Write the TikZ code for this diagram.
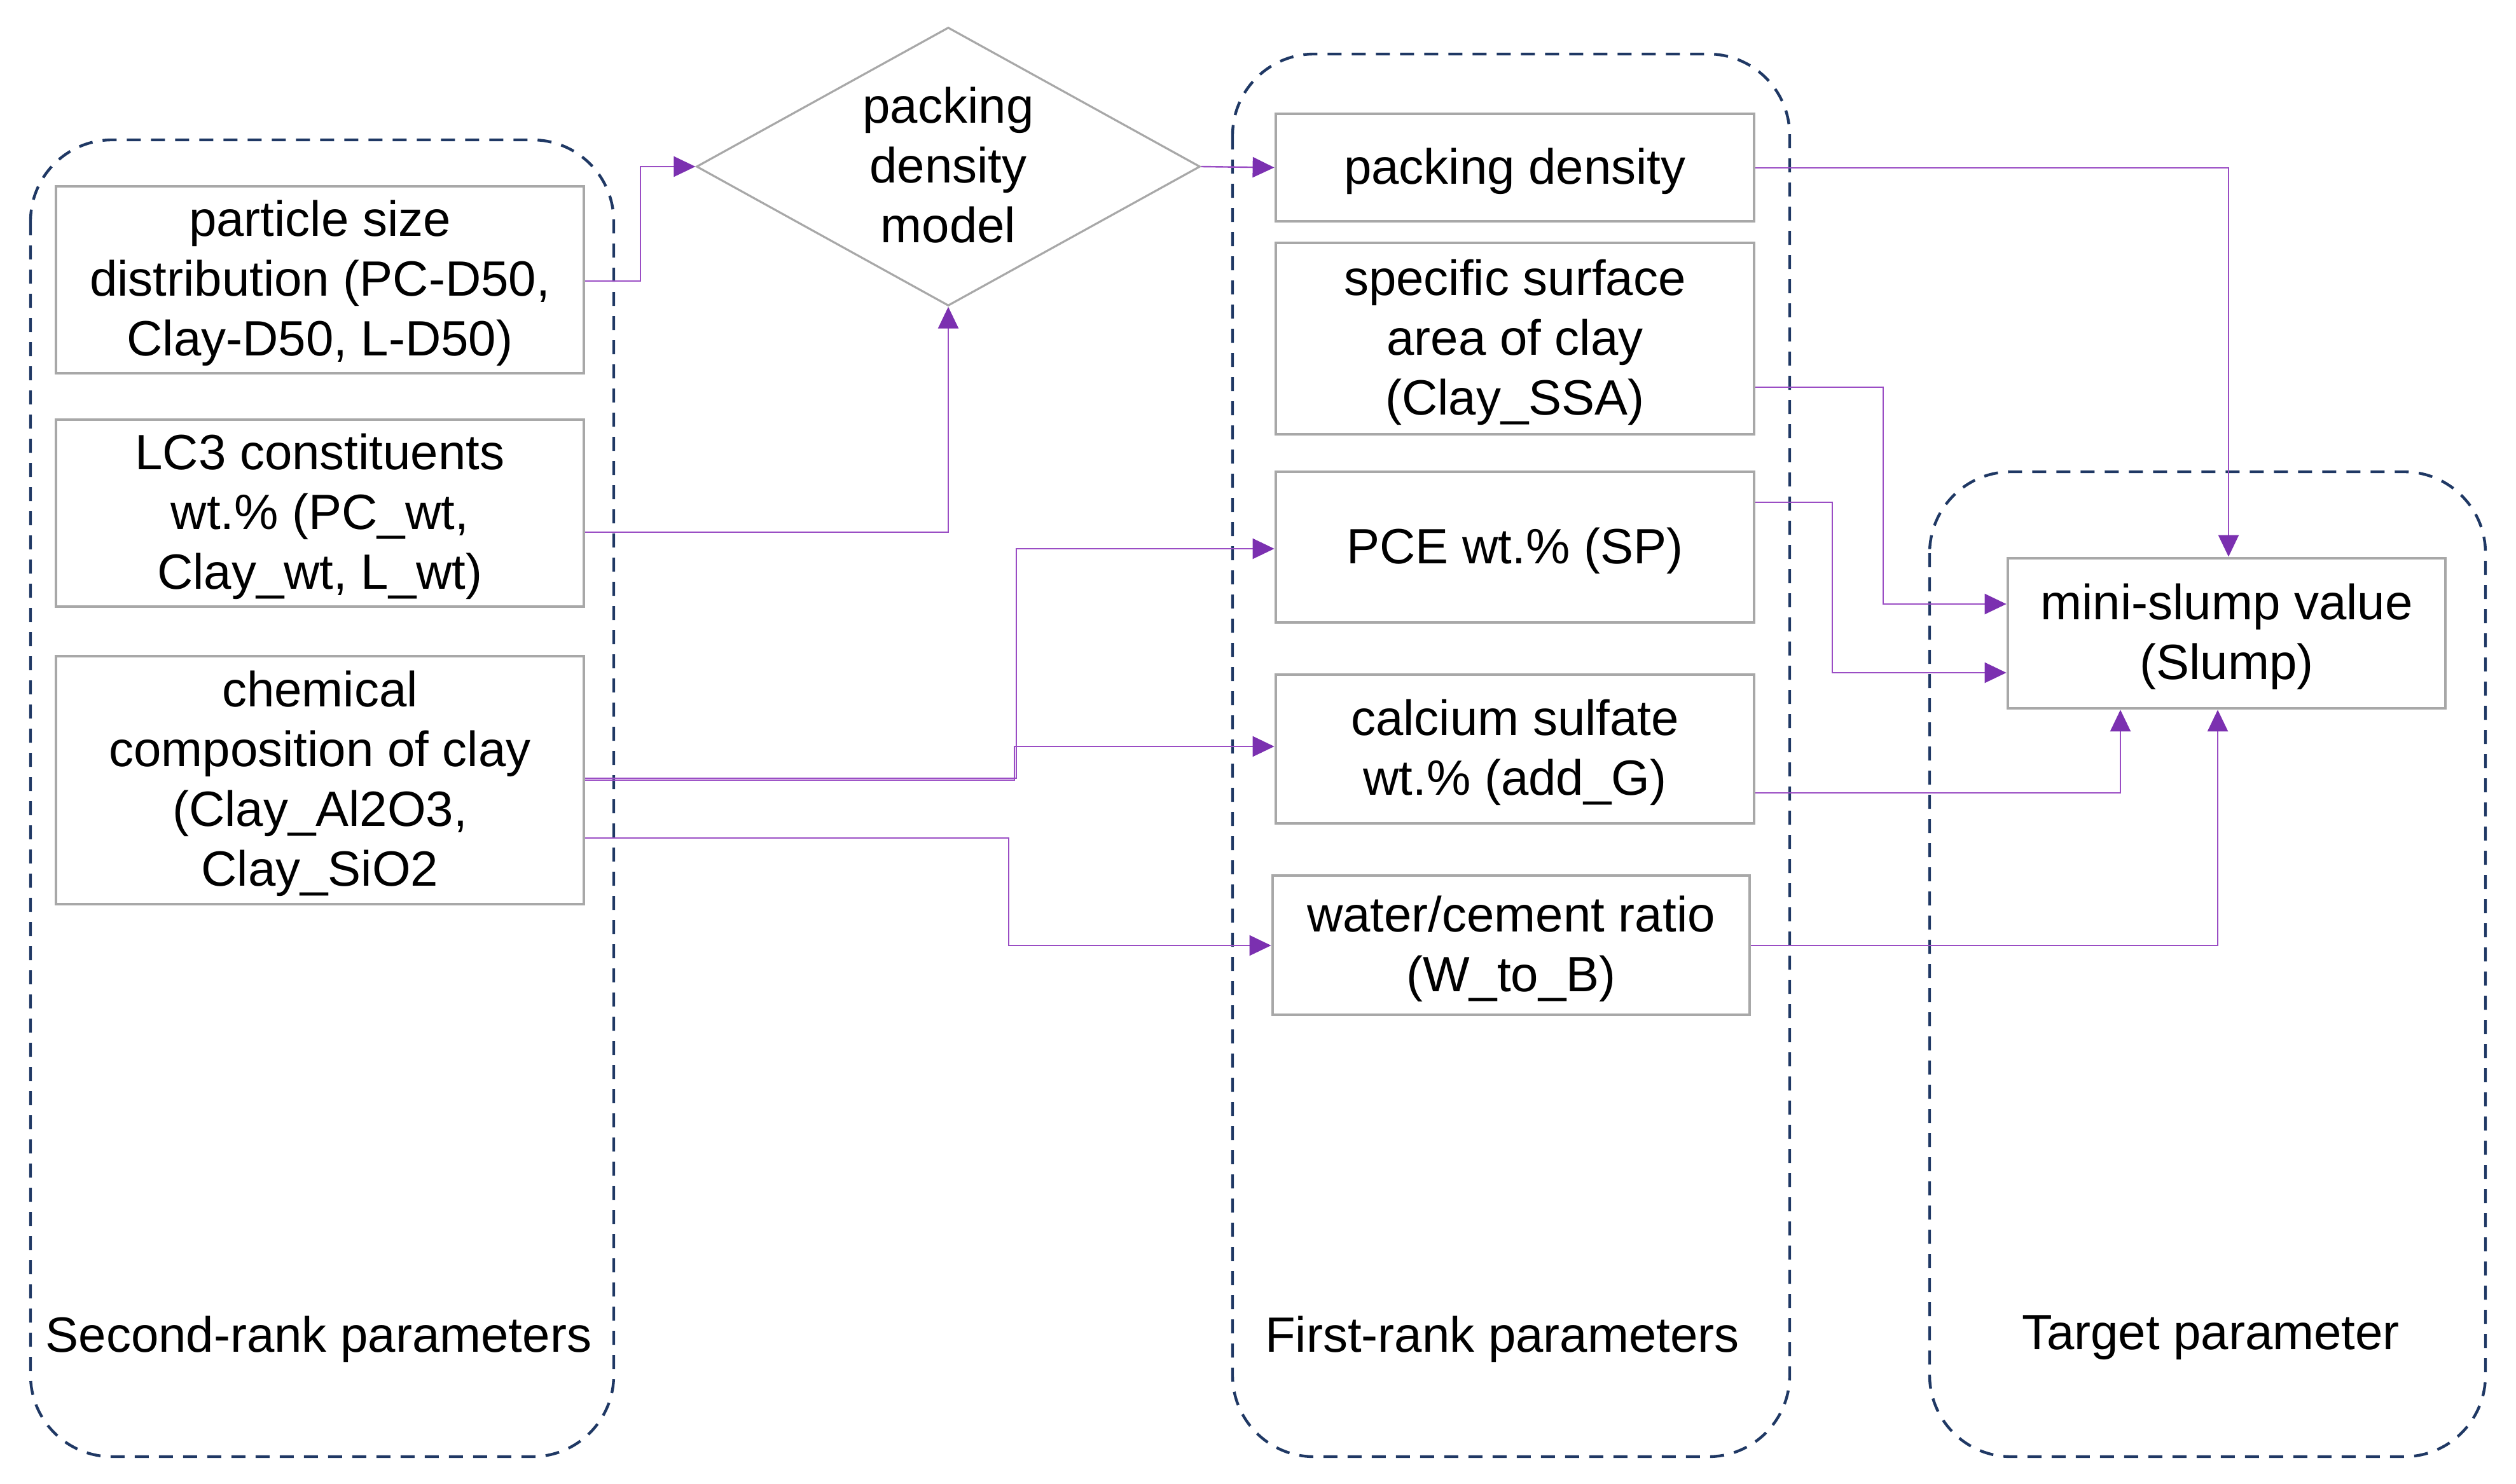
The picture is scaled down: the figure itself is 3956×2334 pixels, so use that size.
\documentclass[tikz,border=0pt]{standalone}
\usepackage{fontspec}
\setmainfont{Liberation Sans}
\usetikzlibrary{arrows.meta,shapes.geometric}
\definecolor{navy}{HTML}{1F3864}
\definecolor{boxgray}{HTML}{A8A8A8}
\definecolor{lc}{HTML}{9A4DC4}
\definecolor{tc}{HTML}{7B30B0}
\newcommand{\topstrut}{\rule{0pt}{17.1pt}}
\newcommand{\botstrut}{\rule[-4.3pt]{0pt}{0pt}}
\begin{document}
\begin{tikzpicture}[x=0.25pt,y=-0.25pt,
  txt/.style={font=\fontsize{19.5pt}{23.5pt}\selectfont, align=center, inner sep=0pt},
  pbox/.style={txt, draw=boxgray, line width=1.2pt, fill=white},
  group/.style={draw=navy, line width=1.1pt, dash pattern=on 5.5pt off 4pt, rounded corners=32pt},
  arr/.style={draw=lc, line width=0.6pt, -{Triangle[length=8.5pt,width=8pt,color=tc]}}
]
\useasboundingbox (0,0) rectangle (3956,2334);
% group containers
\draw[group] (48,220) rectangle (965,2291);
\draw[group] (1938,85) rectangle (2814,2291);
\draw[group] (3034,742) rectangle (3908,2291);
% group labels
\node[txt] (lblL) at (501,2101) {\topstrut Second-rank parameters\botstrut};
\node[txt] (lblM) at (2362,2101) {\topstrut First-rank parameters\botstrut};
\node[txt] (lblR) at (3476,2097) {\topstrut Target parameter\botstrut};
% second-rank boxes
\node[pbox, minimum width=207.5pt, minimum height=73.5pt] (b1) at (503,440) {\topstrut particle size\\distribution (PC-D50,\\Clay-D50, L-D50)\botstrut};
\node[pbox, minimum width=207.5pt, minimum height=73.5pt] (b2) at (503,807) {\topstrut LC3 constituents\\wt.\% (PC\_wt,\\Clay\_wt, L\_wt)\botstrut};
\node[pbox, minimum width=207.5pt, minimum height=97.5pt] (b3) at (503,1227) {\topstrut chemical\\composition of clay\\(Clay\_Al2O3,\\Clay\_SiO2\botstrut};
% diamond
\node[txt, shape=diamond, draw=boxgray, line width=0.8pt, aspect=1.81, minimum width=198pt, minimum height=109.5pt] (dia) at (1491,262) {\topstrut packing\\density\\model\botstrut};
% first-rank boxes
\node[pbox, minimum width=188pt, minimum height=42.25pt] (pd) at (2382,263.5) {\topstrut packing density\botstrut};
\node[pbox, minimum width=188pt, minimum height=75.25pt] (ssa) at (2382,532.5) {\topstrut specific surface\\area of clay\\(Clay\_SSA)\botstrut};
\node[pbox, minimum width=188pt, minimum height=59.25pt] (pce) at (2382,860.5) {\topstrut PCE wt.\% (SP)\botstrut};
\node[pbox, minimum width=188pt, minimum height=58.5pt] (cs) at (2382,1178) {\topstrut calcium sulfate\\wt.\% (add\_G)\botstrut};
\node[pbox, minimum width=187.5pt, minimum height=54.75pt] (wc) at (2376,1486.5) {\topstrut water/cement ratio\\(W\_to\_B)\botstrut};
% target box
\node[pbox, minimum width=172pt, minimum height=59pt] (slump) at (3501,996) {\topstrut mini-slump value\\(Slump)\botstrut};
% connectors
\draw[arr] (b1.east |- 0,442) -- (1007,442) |- (dia.west);
\draw[arr] (b2.east |- 0,837) -| (dia.south);
\draw[arr] (dia.east) -- (pd.west);
\draw[arr] (pd.east |- 0,264) -| (slump.north -| 3504,0);
\draw[arr] (ssa.east |- 0,609) -- (2961,609) |- (slump.west |- 0,950);
\draw[arr] (pce.east |- 0,790) -- (2881,790) |- (slump.west |- 0,1058);
\draw[arr] (cs.east |- 0,1247) -| (slump.south -| 3334,0);
\draw[arr] (wc.east |- 0,1487) -| (slump.south -| 3487,0);
\draw[arr] (b3.east |- 0,1224) -- (1598,1224) |- (pce.west |- 0,863);
\draw[arr] (b3.east |- 0,1227) -- (1595,1227) |- (cs.west |- 0,1174);
\draw[arr] (b3.east |- 0,1318) -- (1586,1318) |- (wc.west |- 0,1487);
\end{tikzpicture}
\end{document}
